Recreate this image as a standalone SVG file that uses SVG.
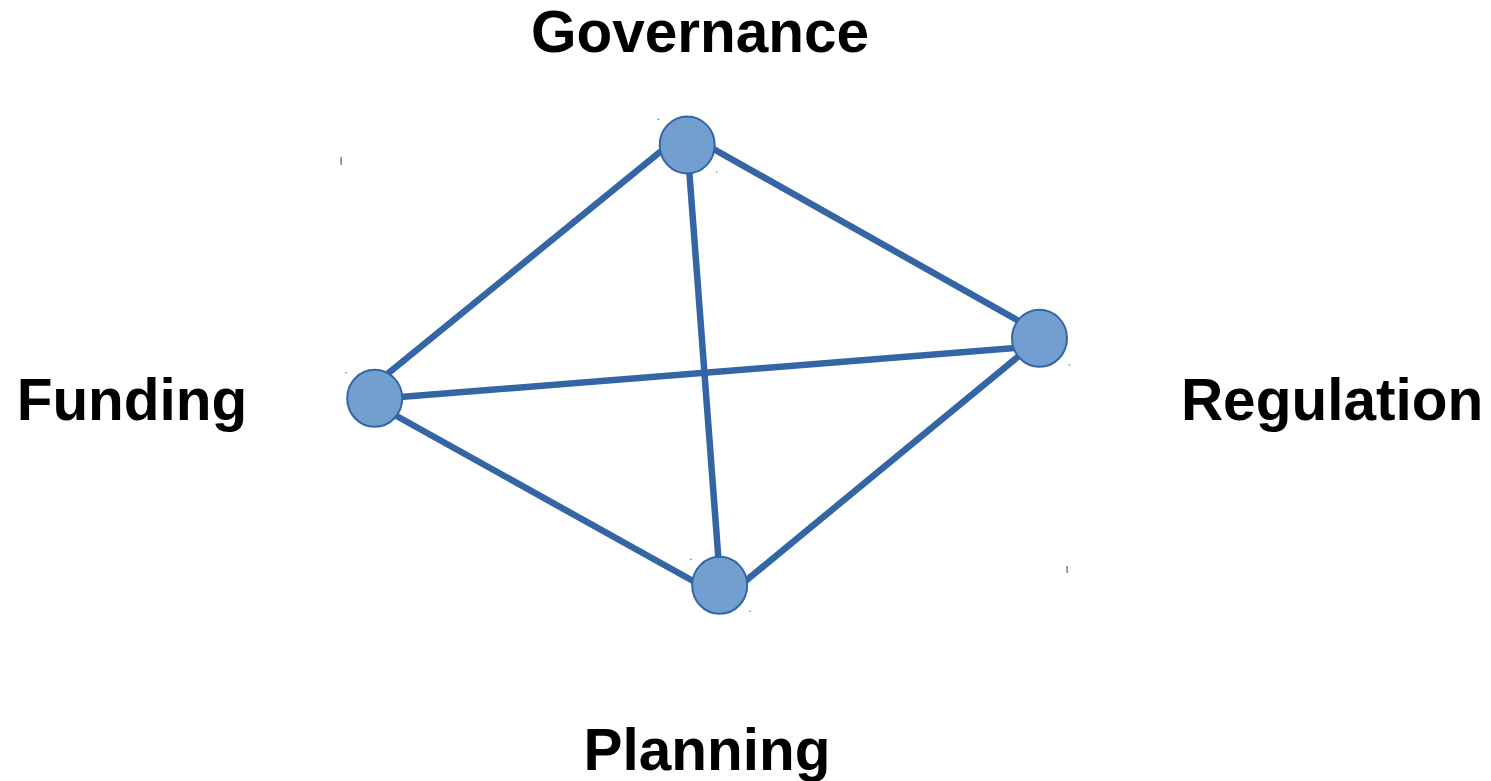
<svg xmlns="http://www.w3.org/2000/svg" width="1491" height="781" viewBox="0 0 1491 781">
<style>
.edge{stroke:#3465a4;stroke-width:6.5;fill:none}
.node{fill:#729fcf;stroke:#3465a4;stroke-width:2}
.label{font-family:"Liberation Sans",Arial,sans-serif;font-weight:bold;font-size:58.5px;fill:#000;text-anchor:middle}
.mark{fill:#3465a4}
</style>
<rect width="1491" height="781" fill="#fff"/>
<g id="connectors">
<line class="edge" x1="687" y1="130" x2="375" y2="384"/>
<line class="edge" x1="687" y1="134" x2="1040" y2="333"/>
<line class="edge" x1="687.3" y1="145" x2="720.4" y2="585"/>
<line class="edge" x1="375" y1="399" x2="1040" y2="346"/>
<line class="edge" x1="375" y1="404" x2="720" y2="596"/>
<line class="edge" x1="720" y1="602" x2="1040" y2="338.6"/>
</g>
<g id="governance">
<ellipse class="node" cx="687.2" cy="145" rx="27.5" ry="28.5"/>
<text class="label" x="700" y="52">Governance</text>
<rect class="mark" x="657.8" y="118.8" width="1.2" height="1.2"/>
<rect class="mark" x="716.2" y="171.2" width="1.2" height="1.2"/>
</g>
<g id="funding">
<ellipse class="node" cx="374.7" cy="398.3" rx="27.5" ry="28.5"/>
<text class="label" x="132" y="420">Funding</text>
<rect class="mark" x="345.2" y="372.2" width="1.2" height="1.2"/>
<rect class="mark" x="340.5" y="157" width="1.2" height="8"/>
</g>
<g id="regulation">
<ellipse class="node" cx="1039.5" cy="338.3" rx="27.5" ry="28.5"/>
<text class="label" x="1332" y="420">Regulation</text>
<rect class="mark" x="1068.8" y="364.2" width="1.2" height="1.2"/>
<rect class="mark" x="1066.5" y="566" width="1.2" height="7"/>
</g>
<g id="planning">
<ellipse class="node" cx="719.7" cy="585.3" rx="27.5" ry="28.5"/>
<text class="label" x="707" y="770">Planning</text>
<rect class="mark" x="690.2" y="558.8" width="1.2" height="1.2"/>
<rect class="mark" x="749.5" y="610.5" width="1.2" height="1.2"/>
</g>
</svg>
